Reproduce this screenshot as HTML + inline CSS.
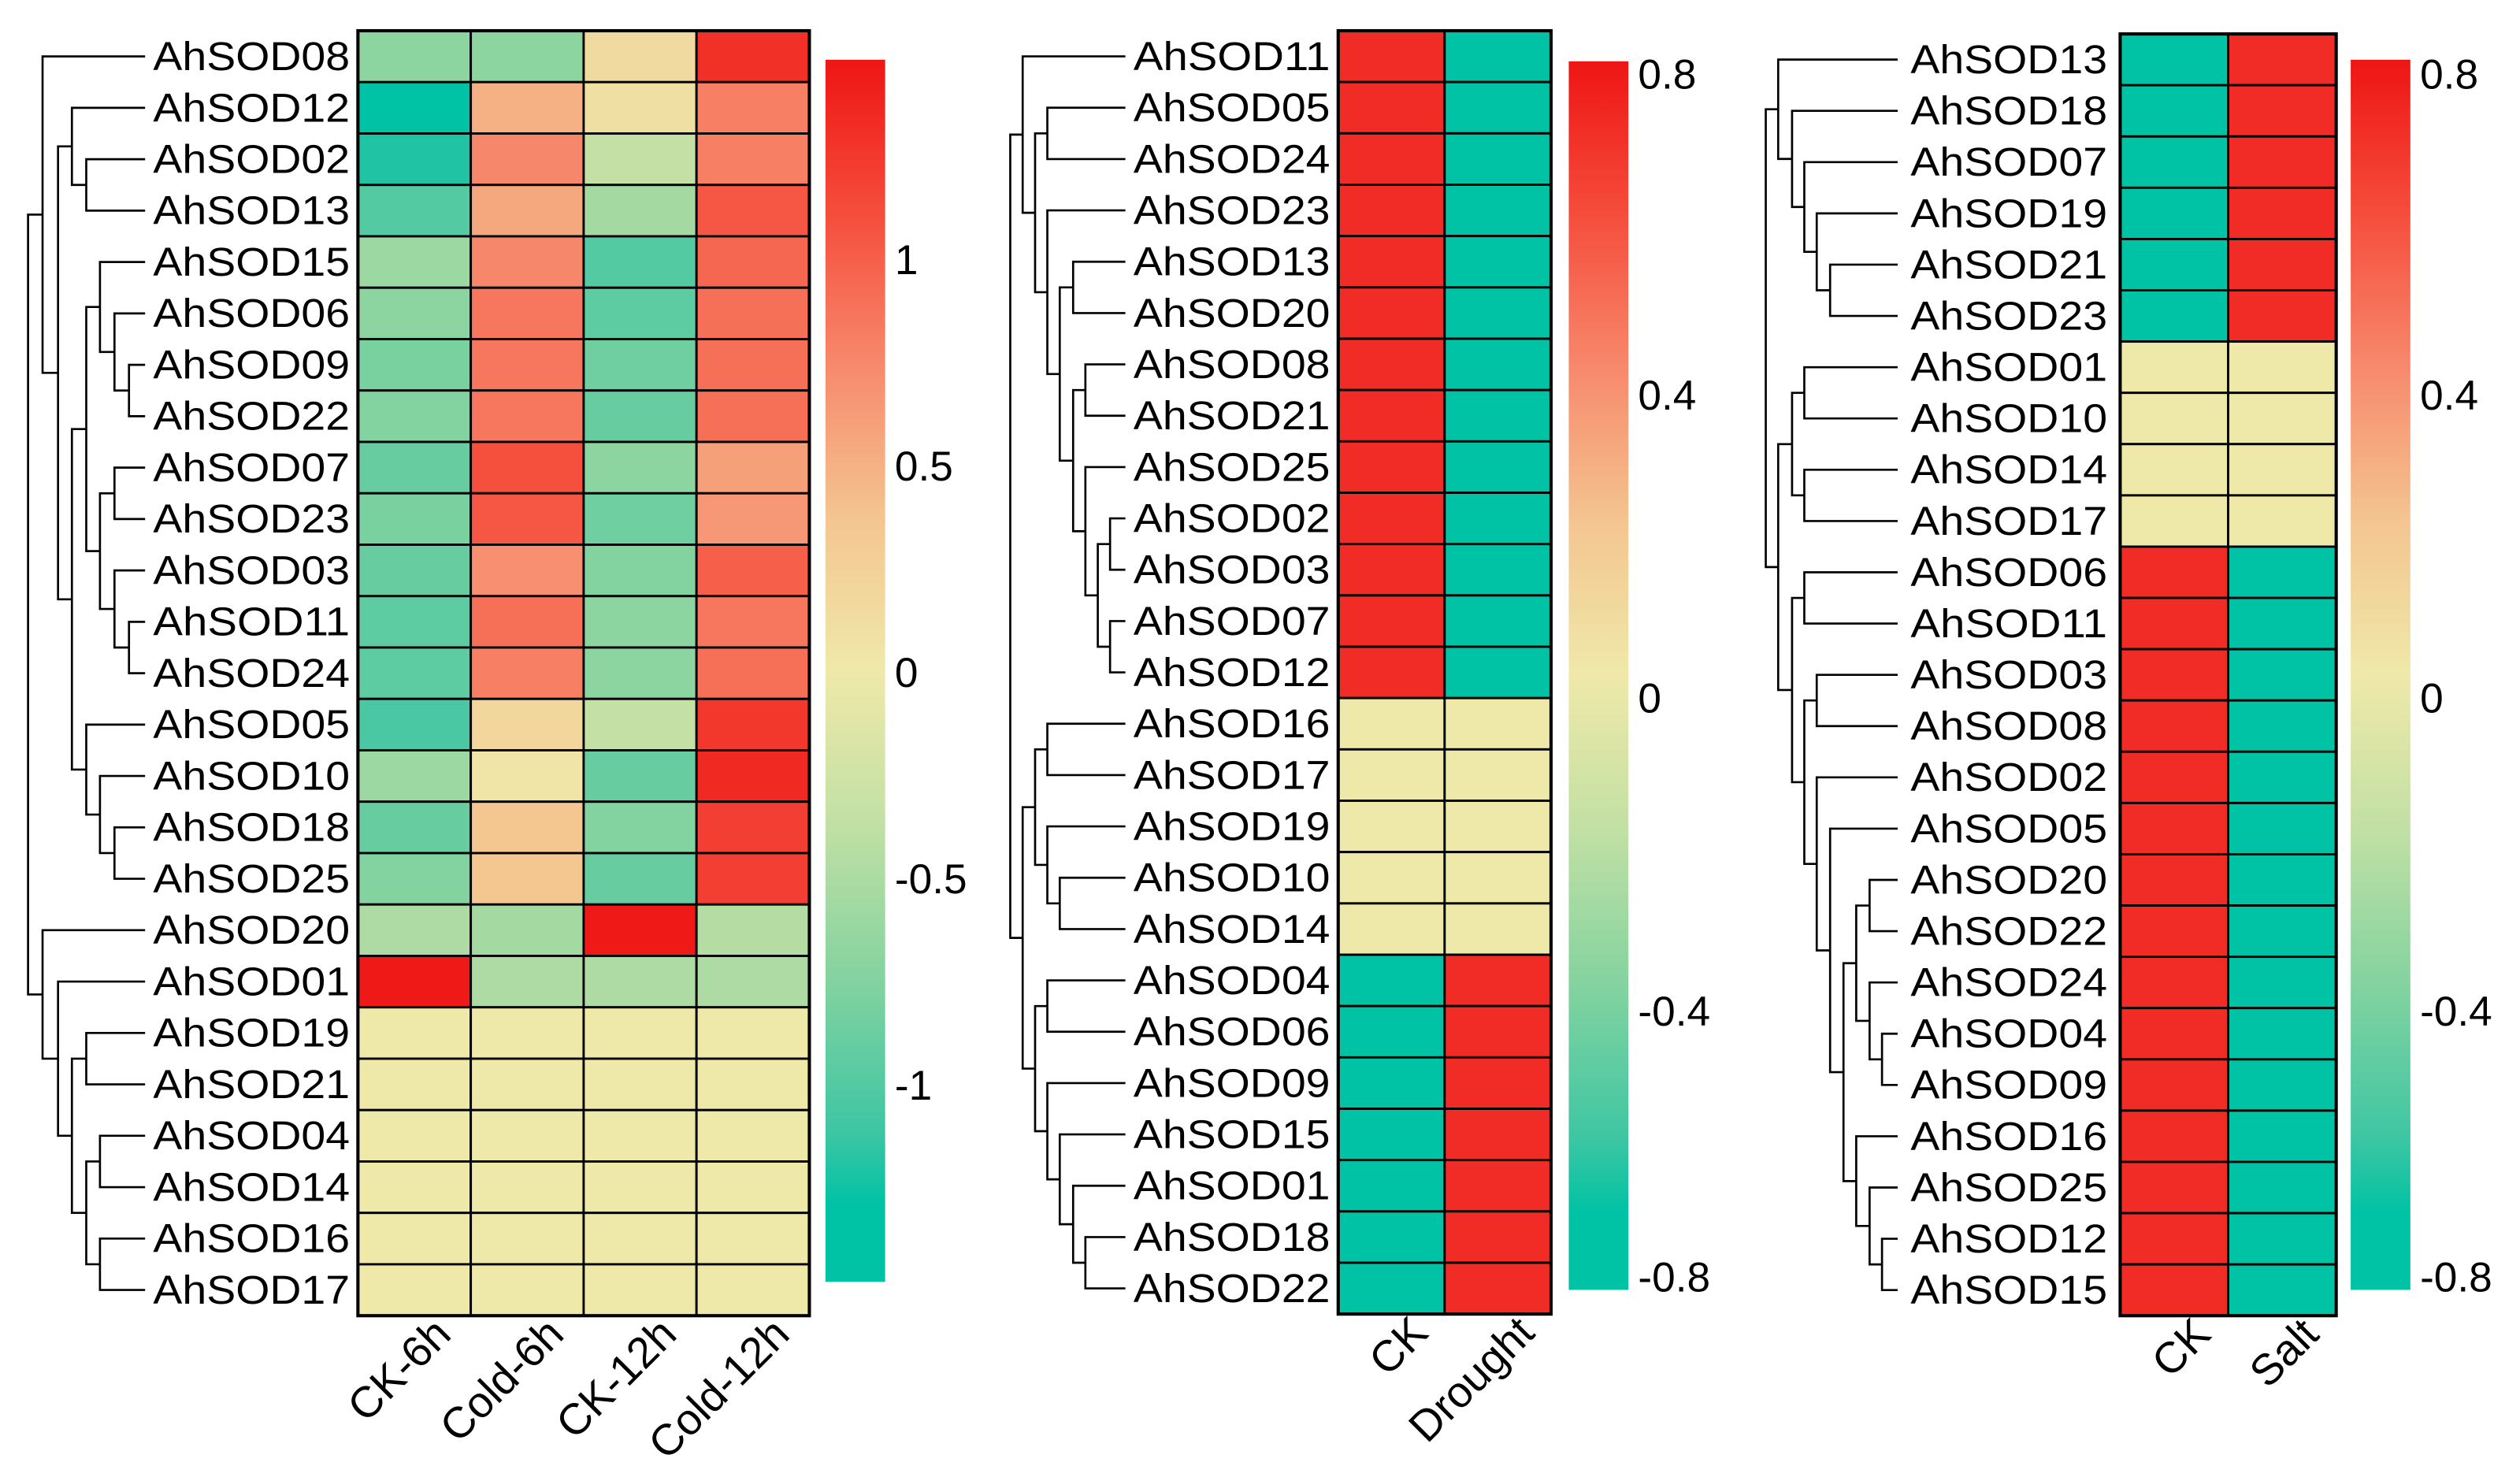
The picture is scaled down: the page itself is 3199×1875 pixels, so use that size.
<!DOCTYPE html>
<html><head><meta charset="utf-8"><style>
html,body{margin:0;padding:0;background:#fff;}
svg{display:block;}
text{font-family:"Liberation Sans",Arial,sans-serif;fill:#000;}
</style></head><body>
<svg id="fig" xmlns="http://www.w3.org/2000/svg" width="3199" height="1875" viewBox="0 0 1563 916">
<rect x="0" y="0" width="1563" height="916" fill="#fff"/>
</svg>
<script>
// ---- data ----
const coldGenes = ["08","12","02","13","15","06","09","22","07","23","03","11","24","05","10","18","25","20","01","19","21","04","14","16","17"];
const coldConditions = ["CK-6h","Cold-6h","CK-12h","Cold-12h"];
const coldCK6 =   [-0.7,-1.45,-1.2,-1.0,-0.6,-0.7,-0.8,-0.75,-0.9,-0.8,-0.9,-0.95,-0.95,-1.05,-0.6,-0.9,-0.75,-0.5,1.45,0,0,0,0,0,0];
const coldCold6 = [-0.7,0.5,0.75,0.55,0.75,0.85,0.85,0.85,1.1,1.05,0.7,0.9,0.8,0.2,0.05,0.35,0.35,-0.55,-0.5,0,0,0,0,0,0];
const coldCK12 =  [0.15,0.1,-0.35,-0.55,-1.0,-0.95,-0.85,-0.9,-0.7,-0.85,-0.75,-0.7,-0.7,-0.35,-0.9,-0.75,-0.9,1.45,-0.5,0,0,0,0,0,0];
const coldCold12 =[1.3,0.8,0.8,1.05,0.95,0.9,0.9,0.9,0.6,0.65,1.0,0.85,0.9,1.25,1.35,1.2,1.2,-0.45,-0.5,0,0,0,0,0,0];
const coldTicks = [1,0.5,0,-0.5,-1];

const droughtGenes = ["11","05","24","23","13","20","08","21","25","02","03","07","12","16","17","19","10","14","04","06","09","15","01","18","22"];
const droughtConditions = ["CK","Drought"];
const droughtCK = [0.72,0.72,0.72,0.72,0.72,0.72,0.72,0.72,0.72,0.72,0.72,0.72,0.72,0,0,0,0,0,-0.8,-0.8,-0.8,-0.8,-0.8,-0.8,-0.8];
const droughtTrt = [-0.8,-0.8,-0.8,-0.8,-0.8,-0.8,-0.8,-0.8,-0.8,-0.8,-0.8,-0.8,-0.8,0,0,0,0,0,0.72,0.72,0.72,0.72,0.72,0.72,0.72];
const saltGenes = ["13","18","07","19","21","23","01","10","14","17","06","11","03","08","02","05","20","22","24","04","09","16","25","12","15"];
const saltConditions = ["CK","Salt"];
const saltCK = [-0.8,-0.8,-0.8,-0.8,-0.8,-0.8,0,0,0,0,0.72,0.72,0.72,0.72,0.72,0.72,0.72,0.72,0.72,0.72,0.72,0.72,0.72,0.72,0.72];
const saltTrt = [0.72,0.72,0.72,0.72,0.72,0.72,0,0,0,0,-0.8,-0.8,-0.8,-0.8,-0.8,-0.8,-0.8,-0.8,-0.8,-0.8,-0.8,-0.8,-0.8,-0.8,-0.8];
const pmTicks = [0.8,0.4,0,-0.4,-0.8];

// ---- helpers ----
const NS="http://www.w3.org/2000/svg";
const svg=document.getElementById('fig');
function mk(tag,attrs){const e=document.createElementNS(NS,tag);for(const k in attrs)e.setAttribute(k,attrs[k]);svg.appendChild(e);return e;}
const stops=[[1,[238,21,21]],[0.75,[245,77,60]],[0.5,[247,137,108]],[0.25,[244,197,144]],[0,[239,233,169]],[-0.25,[194,224,164]],[-0.5,[133,211,160]],[-0.75,[63,198,163]],[-0.875,[0,194,165]],[-1,[0,194,165]]];
function colorFor(t){t=Math.max(-1,Math.min(1,t));for(let i=0;i<stops.length-1;i++){const a=stops[i],b=stops[i+1];if(t<=a[0]&&t>=b[0]){const f=(a[0]-t)/(a[0]-b[0]);const c=a[1].map((v,j)=>Math.round(v+(b[1][j]-v)*f));return `rgb(${c[0]},${c[1]},${c[2]})`;}}return 'rgb(0,194,165)';}
let gid=0;
function drawPanel(p){
  const n=p.genes.length, rowH=(p.y1-p.y0)/n, nc=p.series.length, colW=(p.x1-p.x0)/nc;
  const yOf=i=>p.y0+rowH*(i+0.5);
  p.series.forEach((vals,c)=>{vals.forEach((v,r)=>{
    const e=mk('rect',{x:p.x0+c*colW,y:p.y0+r*rowH,width:colW,height:rowH,fill:colorFor(v/p.max),stroke:'#000','stroke-width':1.4});
    
    
  });});
  const ob=mk('rect',{x:p.x0,y:p.y0,width:p.x1-p.x0,height:p.y1-p.y0,fill:'none',stroke:'#000','stroke-width':2});
  
  
  p.genes.forEach((g,r)=>{
    const t=mk('text',{x:p.lx,y:yOf(r)+8.5,'font-size':25,textLength:122,lengthAdjust:'spacingAndGlyphs'});
    t.textContent='AhSOD'+g;
    
    
  });
  function lay(node){
    if(typeof node==='string'){return {y:yOf(p.genes.indexOf(node)),x:p.leafX};}
    const a=lay(node[1]),b=lay(node[2]),x=node[0];
    const d=`M${a.x},${a.y}H${x}V${b.y}H${b.x}`;
    const e=mk('path',{d:d,fill:'none',stroke:'#000','stroke-width':1.3});
    
    
    return {y:(a.y+b.y)/2,x:x};
  }
  lay(p.tree);
  p.conds.forEach((c,i)=>{
    const cx=p.x0+colW*(i+0.5)+24, cy=p.y1+13;
    const t=mk('text',{x:cx,y:cy,'font-size':27,'text-anchor':'end',transform:`rotate(-45 ${cx} ${cy})`});
    t.textContent=c;
    
    
  });
  const id='grad'+(gid++);
  const defs=mk('defs',{});
  const lg=document.createElementNS(NS,'linearGradient');
  lg.setAttribute('id',id);lg.setAttribute('x1','0');lg.setAttribute('y1','0');lg.setAttribute('x2','0');lg.setAttribute('y2','1');
  defs.appendChild(lg);
  stops.forEach(s=>{const st=document.createElementNS(NS,'stop');st.setAttribute('offset',((1-s[0])/2*100)+'%');st.setAttribute('stop-color',`rgb(${s[1].join(',')})`);lg.appendChild(st);});
  const cb=mk('rect',{x:p.bx,y:p.by0,width:37,height:p.by1-p.by0,fill:`url(#${id})`});
  
  
  p.ticks.forEach((v)=>{
    const y=p.tickY(v);
    const t=mk('text',{x:p.bx+43,y:y+9,'font-size':26});
    t.textContent=String(v);
    
    
  });
}
const A=17.4,B=26.4,C=36,D=44.6,E=53.5,F=62,G=71,H=80;
drawPanel({key:'cold',genes:coldGenes,conds:coldConditions,series:[coldCK6,coldCold6,coldCK12,coldCold12],max:1.48,
  x0:222,x1:502,y0:19,y1:816,lx:95,leafX:90,bx:512,by0:37,by1:795,ticks:coldTicks,tickY:v=>417-v*256,
  tree:[A,[B,"08",[C,[D,"12",[E,"02","13"]],[D,[E,[F,"15",[G,"06",[H,"09","22"]]],[F,[G,"07","23"],[G,"03",[H,"11","24"]]]],[E,"05",[F,"10",[G,"18","25"]]]]]],[B,"20",[C,"01",[D,[E,"19","21"],[E,[F,"04","14"],[F,"16","17"]]]]]]});
const L=[626.6,634.3,642,649.6,657.3,665.6,673.2,680.9,688.5];
const pmY={"0.8":46,"0.4":245,"0":433,"-0.4":627,"-0.8":792};
drawPanel({key:'drought',genes:droughtGenes,conds:droughtConditions,series:[droughtCK,droughtTrt],max:0.8,
  x0:830,x1:962,y0:19,y1:815,lx:703,leafX:698,bx:973,by0:38,by1:800,ticks:pmTicks,tickY:v=>pmY[String(v)],
  tree:[L[0],[L[1],"11",[L[2],[L[3],"05","24"],[L[3],"23",[L[4],[L[5],"13","20"],[L[5],[L[6],"08","21"],[L[6],"25",[L[7],[L[8],"02","03"],[L[8],"07","12"]]]]]]]],[L[1],[L[2],[L[3],"16","17"],[L[3],"19",[L[4],"10","14"]]],[L[2],[L[3],"04","06"],[L[3],"09",[L[4],"15",[L[5],"01",[L[6],"18","22"]]]]]]]});
const P=[1095.2,1102.9,1111.5,1119.1,1126.8,1135.1,1143.4,1151.3,1159.6,1167.3];
drawPanel({key:'salt',genes:saltGenes,conds:saltConditions,series:[saltCK,saltTrt],max:0.8,
  x0:1315,x1:1449,y0:21,y1:816,lx:1185,leafX:1177,bx:1458,by0:37,by1:800,ticks:pmTicks,tickY:v=>pmY[String(v)],
  tree:[P[0],[P[1],"13",[P[2],"18",[P[3],"07",[P[4],"19",[P[5],"21","23"]]]]],[P[1],[P[2],[P[3],"01","10"],[P[3],"14","17"]],[P[2],[P[3],"06","11"],[P[3],[P[4],"03","08"],[P[4],"02",[P[5],"05",[P[6],[P[7],[P[8],"20","22"],[P[8],"24",[P[9],"04","09"]]],[P[7],"16",[P[8],"25",[P[9],"12","15"]]]]]]]]]]});
</script>
</body></html>
